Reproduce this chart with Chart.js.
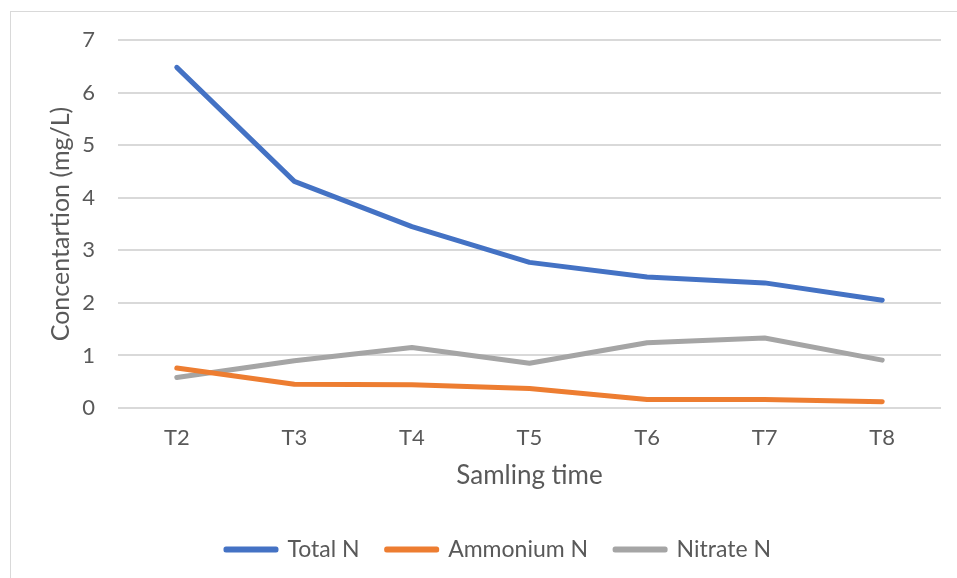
<!DOCTYPE html>
<html lang="en">
<head>
    <meta charset="UTF-8">
    <title>Nitrogen concentration</title>
    <script src="https://cdn.jsdelivr.net/npm/chart.js"></script>
    <style>
        html, body { margin: 0; padding: 0; background: #fff; overflow: hidden; }
        .wrap { position: relative; width: 957px; height: 578px; overflow: hidden; }
        .frame { position: absolute; left: 10px; top: 11px; width: 1000px; height: 600px; border: 1px solid #d9d9d9; }
        #chart { position: absolute; left: 0; top: 0; }
    </style>
</head>
<body>
    <div class="wrap">
        <div class="frame"></div>
        <canvas id="chart" width="990" height="578"></canvas>
    </div>

    <script>
        // values
        const samplingTimes = ['T2', 'T3', 'T4', 'T5', 'T6', 'T7', 'T8'];
        const totalN = [6.48, 4.31, 3.45, 2.77, 2.49, 2.38, 2.05];
        const ammoniumN = [0.76, 0.45, 0.44, 0.37, 0.16, 0.16, 0.12];
        const nitrateN = [0.58, 0.90, 1.15, 0.85, 1.24, 1.33, 0.91];

        const textColor = '#595959';
        const fontFamily = 'Lato, "Open Sans", sans-serif';

        function series(label, data, color) {
            return {
                label: label,
                data: data,
                borderColor: color,
                backgroundColor: color,
                borderWidth: 5,
                borderCapStyle: 'round',
                borderJoinStyle: 'round',
                pointRadius: 0,
                tension: 0
            };
        }

        // the legend in the original sits centred on the whole frame, not the plot
        const shiftLegend = {
            id: 'shiftLegend',
            afterLayout(chart) {
                chart.legend.left += 28;
                chart.legend.right += 28;
            }
        };

        const ctx = document.getElementById('chart').getContext('2d');
        const chart = new Chart(ctx, {
            type: 'line',
            data: {
                labels: samplingTimes,
                datasets: [
                    series('Total N', totalN, '#4472C4'),
                    series('Ammonium N', ammoniumN, '#ED7D31'),
                    series('Nitrate N', nitrateN, '#A5A5A5')
                ]
            },
            plugins: [shiftLegend],
            options: {
                responsive: false,
                animation: false,
                devicePixelRatio: 1,
                layout: {
                    padding: { top: 40, right: 49, bottom: 7, left: 0 }
                },
                plugins: {
                    tooltip: { enabled: false },
                    legend: {
                        position: 'bottom',
                        labels: {
                            color: textColor,
                            font: { family: fontFamily, size: 23 },
                            boxWidth: 50,
                            boxHeight: 1,
                            padding: 27
                        }
                    }
                },
                scales: {
                    x: {
                        offset: true,
                        grid: { display: false },
                        border: { display: false },
                        ticks: {
                            color: textColor,
                            font: { family: fontFamily, size: 22 },
                            padding: 9
                        },
                        title: {
                            display: true,
                            text: 'Samling time',
                            color: textColor,
                            font: { family: fontFamily, size: 26 },
                            padding: { top: 0, bottom: 20 }
                        },
                        afterFit: function (scale) { scale.height = 103; }
                    },
                    y: {
                        min: 0,
                        max: 7,
                        grid: { color: '#d9d9d9', lineWidth: 2, drawTicks: false },
                        border: { display: false },
                        ticks: {
                            stepSize: 1,
                            color: textColor,
                            font: { family: fontFamily, size: 22 },
                            padding: 23
                        },
                        title: {
                            display: true,
                            text: 'Concentartion (mg/L)',
                            color: textColor,
                            font: { family: fontFamily, size: 25 },
                            padding: { top: 46, bottom: 0 }
                        },
                        afterFit: function (scale) { scale.width = 118; }
                    }
                }
            }
        });
    </script>
</body>
</html>
